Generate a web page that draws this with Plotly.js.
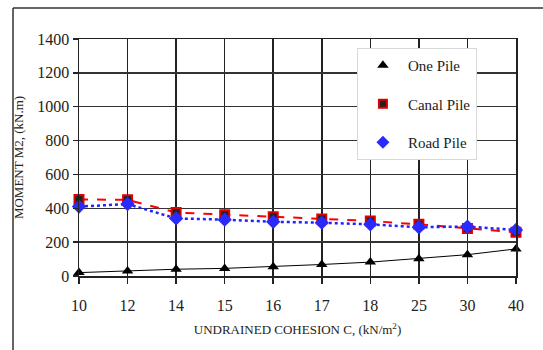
<!DOCTYPE html>
<html><head><meta charset="utf-8">
<script src="https://cdn.plot.ly/plotly-3.0.1.min.js"></script>
<style>html,body{margin:0;padding:0;background:#fff;}#chart{width:543px;height:350px;}</style>
</head><body><div id="chart"></div>
<script>
const categories = ['10','12','14','15','16','17','18','25','30','40'];
const onePile   = [20, 30, 40, 45, 55, 68, 82, 102, 126, 160];
const canalPile = [452, 450, 375, 362, 350, 337, 325, 305, 280, 258];
const roadPile  = [410, 425, 340, 333, 320, 315, 305, 288, 292, 272];
const seriesNames = ['One Pile', 'Canal Pile', 'Road Pile'];
const yTicks = [0, 200, 400, 600, 800, 1000, 1200, 1400];

const serif = 'Liberation Serif';
const traces = [
  {x: categories, y: onePile, mode: 'lines+markers', showlegend: false, cliponaxis: false,
   line: {color: '#000', width: 1}, marker: {symbol: 'triangle-up', size: 10, color: '#000'}},
  {x: categories, y: canalPile, mode: 'lines+markers', showlegend: false, cliponaxis: false,
   line: {color: '#ff0000', width: 2, dash: 'dash'},
   marker: {symbol: 'square', size: 9, color: '#222', line: {color: '#e00000', width: 2}}},
  {x: categories, y: roadPile, mode: 'lines+markers', showlegend: false, cliponaxis: false,
   line: {color: '#2222ff', width: 2.5, dash: 'dot'},
   marker: {symbol: 'diamond', size: 11, color: '#2a2aff'}},
  {x: [null], y: [null], mode: 'markers', name: seriesNames[0], legendgroup: 'a',
   marker: {symbol: 'triangle-up', size: 10, color: '#000'}},
  {x: [null], y: [null], mode: 'markers', name: seriesNames[1], legendgroup: 'b',
   marker: {symbol: 'square', size: 8, color: '#222', line: {color: '#e00000', width: 2}}},
  {x: [null], y: [null], mode: 'markers', name: seriesNames[2], legendgroup: 'c',
   marker: {symbol: 'diamond', size: 10, color: '#2a2aff'}}
];

const layout = {
  width: 543, height: 350,
  margin: {l: 79, r: 27, t: 39, b: 74},
  paper_bgcolor: '#fff', plot_bgcolor: '#fff',
  font: {family: serif, color: '#222'},
  showlegend: true,
  legend: {x: 0.636, y: 0.962, xanchor: 'left', yanchor: 'top',
    bgcolor: '#fff', bordercolor: '#d8d8d8', borderwidth: 1,
    font: {family: serif, size: 15, color: '#222'},
    traceorder: 'grouped', tracegroupgap: 16, entrywidth: 120, itemwidth: 40},
  xaxis: {type: 'category', range: [0, 9], showgrid: true, gridcolor: '#222', gridwidth: 1.5,
    showline: true, mirror: true, linecolor: '#222', linewidth: 1.5,
    ticks: 'outside', ticklen: 6, tickcolor: '#222', tickwidth: 1.5,
    tickfont: {family: serif, size: 16, color: '#222'}, ticklabelstandoff: 8,
    title: {text: 'UNDRAINED COHESION C, (kN/m<sup>2</sup>)', font: {family: serif, size: 13, color: '#222'}, standoff: 12},
    zeroline: false},
  yaxis: {range: [0, 1400], tickvals: yTicks, showgrid: true, gridcolor: '#333', gridwidth: 1.5,
    showline: true, mirror: true, linecolor: '#222', linewidth: 1.5,
    ticks: 'outside', ticklen: 5, tickcolor: '#222', tickwidth: 1.5,
    tickfont: {family: serif, size: 16, color: '#222'},
    title: {text: 'MOMENT M2, (kN.m)', font: {family: serif, size: 13, color: '#222'}, standoff: 10},
    zeroline: false},
  shapes: [
    {type: 'line', xref: 'paper', yref: 'paper', x0: -0.151, x1: -0.151, y0: 1.131, y1: -0.32, line: {color: '#333', width: 1.5}},
    {type: 'line', xref: 'paper', yref: 'paper', x0: -0.151, x1: 1.07, y0: 1.131, y1: 1.131, line: {color: '#333', width: 1.5}}
  ]
};
Plotly.newPlot('chart', traces, layout, {displayModeBar: false, staticPlot: true});
</script></body></html>
